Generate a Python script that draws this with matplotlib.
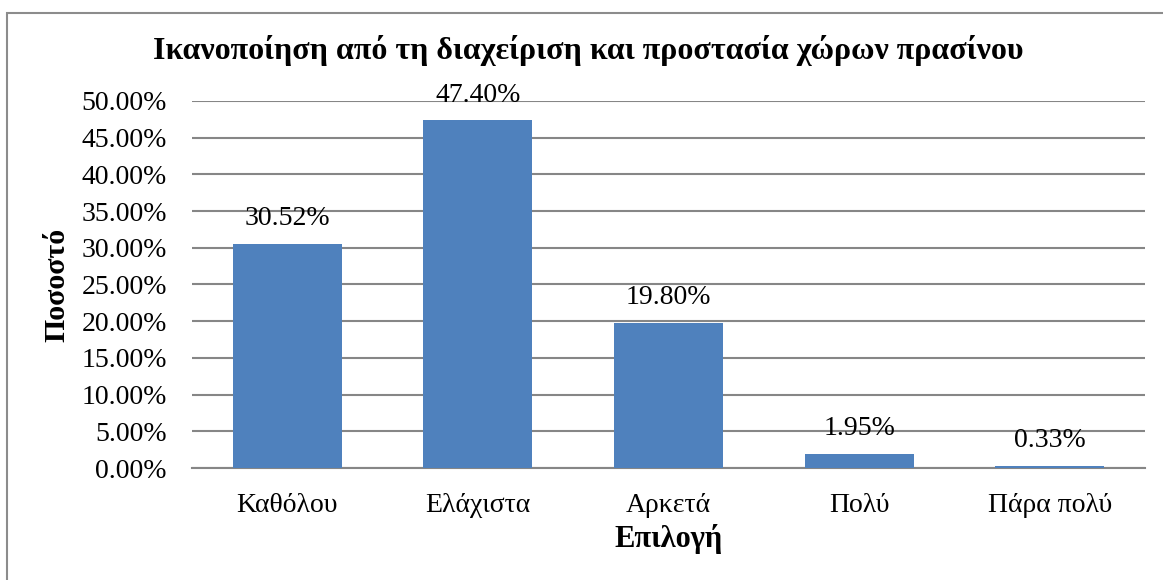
import matplotlib.pyplot as plt
from matplotlib.patches import Rectangle
from matplotlib.ticker import FuncFormatter

categories = ['Καθόλου', 'Ελάχιστα', 'Αρκετά', 'Πολύ', 'Πάρα πολύ']
values = [30.52, 47.40, 19.80, 1.95, 0.33]
labels = ['30.52%', '47.40%', '19.80%', '1.95%', '0.33%']

plt.rcParams['font.family'] = ['Liberation Serif']

fig = plt.figure(figsize=(11.63, 5.8), dpi=100)
ax = fig.add_axes([0.165, 0.193, 0.8195, 0.633])

# outer frame (only top and left visible in the reference)
fig.patches.append(Rectangle((7 / 1163, -0.1), 1.2, 1.1 - 13 / 580, transform=fig.transFigure,
                             fill=False, edgecolor='#8c8c8c', linewidth=1.5))

x = range(len(categories))
ax.bar(x, values, width=0.572, color='#4f81bd', zorder=3)
for xi, v, lab in zip(x, values, labels):
    ax.annotate(lab, (xi, v), xytext=(0, 9), textcoords='offset points',
                ha='center', va='bottom', fontsize=20)

ax.set_ylim(0, 50)
ax.set_xlim(-0.5, 4.5)
ax.set_yticks(range(0, 51, 5))
ax.yaxis.set_major_formatter(FuncFormatter(lambda v, p: '%.2f%%' % v))
ax.set_xticks(list(x))
ax.set_xticklabels(categories)
ax.tick_params(axis='both', length=0, labelsize=20)
ax.tick_params(axis='y', pad=18)
ax.tick_params(axis='x', pad=18)
ax.grid(axis='y', color='#868686', linewidth=1.5, zorder=0)
for s in ['top', 'right', 'left']:
    ax.spines[s].set_visible(False)
ax.spines['bottom'].set_color('#868686')
ax.spines['bottom'].set_linewidth(1.5)

ax.set_xlabel('Επιλογή', fontsize=22, fontweight='bold', labelpad=4)
fig.text(0.049, 0.509, 'Ποσοστό', rotation=90, fontsize=21.5, fontweight='bold',
         ha='center', va='center')
fig.text(0.506, 0.913, 'Ικανοποίηση από τη διαχείριση και προστασία χώρων πρασίνου',
         fontsize=23, fontweight='bold', ha='center', va='center')

fig.savefig('out.png', dpi=100)
